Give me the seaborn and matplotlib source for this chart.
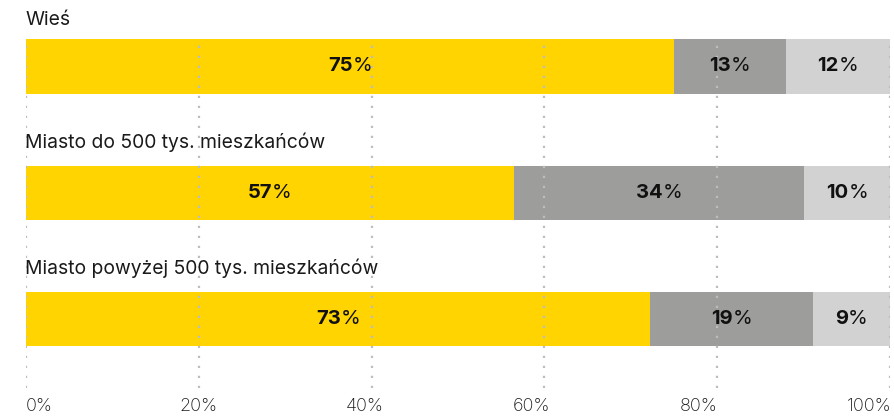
import matplotlib
matplotlib.use("Agg")
import matplotlib.pyplot as plt
import matplotlib.transforms as mtransforms
import numpy as np
import pandas as pd
import seaborn as sns

categories = ["Wieś", "Miasto do 500 tys. mieszkańców", "Miasto powyżej 500 tys. mieszkańców"]
tak = [75, 57, 73]
nie = [13, 34, 19]
trudno = [12, 10, 9]
tick_values = [0, 20, 40, 60, 80, 100]
tick_labels = ["0%", "20%", "40%", "60%", "80%", "100%"]

colors = ["#FFD400", "#9D9D9C", "#D2D2D2"]

sns.set_theme(style="white")
FONT = ["Inter", "DejaVu Sans"]
plt.rcParams["font.family"] = FONT

df = pd.DataFrame({"cat": categories, "a": tak, "b": nie, "c": trudno})
tot = df["a"] + df["b"] + df["c"]
df["s1"] = df["a"] / tot * 100
df["s2"] = (df["a"] + df["b"]) / tot * 100
df["s3"] = 100.0 * tot / tot

W, H = 894, 418
fig = plt.figure(figsize=(W / 100, H / 100), dpi=100)
ax = fig.add_axes([26 / W, (H - 388) / H, 864 / W, 350 / H])

for col, c in zip(["s3", "s2", "s1"], colors[::-1]):
    sns.barplot(data=df, x=col, y="cat", orient="h", color=c, width=0.43,
                saturation=1, ax=ax, linewidth=0, errorbar=None)

ax.set_xlim(0, 100)
ax.set_ylim(2.5465, -0.2257)
ax.set_xlabel("")
ax.set_ylabel("")
ax.set_yticks([])
ax.set_xticks(tick_values)
ax.set_xticklabels(tick_labels)
for s in ax.spines.values():
    s.set_visible(False)
ax.set_axisbelow(False)
ax.grid(axis="x", color="#BDBDBD", linestyle=(0, (1, 3.5)), linewidth=1.6, zorder=2.5)
ax.grid(axis="y", visible=False)
ax.tick_params(axis="x", length=0, pad=7.5, labelsize=13, labelcolor="#1a1a1a")

# tick label horizontal offsets (px) to mimic justified layout
offs = [0, 0, -7, -13, -19, 0]
for lab, o, i in zip(ax.get_xticklabels(), offs, range(6)):
    lab.set_fontweight("light")
    if i == 0:
        lab.set_ha("left")
    elif i == 5:
        lab.set_ha("right")
        o = 2
    lab.set_transform(lab.get_transform() + mtransforms.ScaledTranslation(o / 100, 0, fig.dpi_scale_trans))

# titles
title_y = [-0.368, 0.598, 1.596]
for cat, ty in zip(categories, title_y):
    ax.text(-0.1, ty, cat, ha="left", va="center", fontsize=13.9, color="#1a1a1a", clip_on=False)

# value labels
fig.canvas.draw()
r = fig.canvas.get_renderer()
for i in range(3):
    starts = [0, df["s1"][i], df["s2"][i]]
    ends = [df["s1"][i], df["s2"][i], 100]
    vals = [tak[i], nie[i], trudno[i]]
    for s, e, v in zip(starts, ends, vals):
        cx = (s + e) / 2
        t1 = ax.text(cx, i, str(v), ha="left", va="center", fontsize=14.5, fontweight="bold", color="#111111", zorder=4)
        t2 = ax.text(cx, i, "%", ha="left", va="center", fontsize=14.5, color="#111111", zorder=4)
        w1 = t1.get_window_extent(r).width
        w2 = t2.get_window_extent(r).width
        tot_w = w1 + w2
        t1.set_transform(ax.transData + mtransforms.ScaledTranslation(-tot_w / 2 / 100, 0, fig.dpi_scale_trans))
        t2.set_transform(ax.transData + mtransforms.ScaledTranslation((-tot_w / 2 + w1) / 100, 0, fig.dpi_scale_trans))

fig.savefig("out.png", dpi=100)
